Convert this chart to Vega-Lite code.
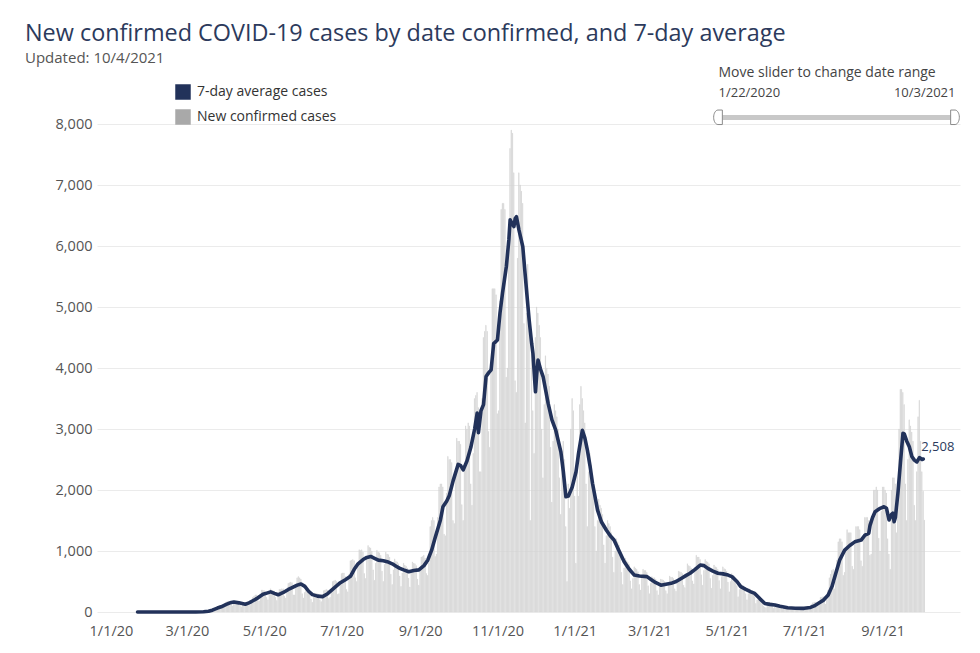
{
"$schema":"https://vega.github.io/schema/vega-lite/v6.json",
"width":863,"height":488,
"autosize":{"type":"none"},
"padding":{"left":97,"top":124,"right":20,"bottom":41},
"background":"white",
"title":{"text":"New confirmed COVID-19 cases by date confirmed, and 7-day average","subtitle":"Updated: 10/4/2021","anchor":"start","frame":"group","dx":-72,"fontSize":23.4,"fontWeight":"normal","color":"#2c3a5c","subtitleFontSize":15,"subtitleColor":"#555555","subtitlePadding":5,"offset":-2},
"config":{"font":"Open Sans","view":{"stroke":null},"axis":{"labelFontSize":14.5,"labelColor":"#555555","ticks":false,"domain":false}},
"datasets":{
"bars":[
{"d":"2020-03-08","c":0},{"d":"2020-03-09","c":1},{"d":"2020-03-10","c":1},{"d":"2020-03-11","c":2},{"d":"2020-03-12","c":4},{"d":"2020-03-13","c":6},{"d":"2020-03-14","c":8},
{"d":"2020-03-15","c":10},{"d":"2020-03-16","c":15},{"d":"2020-03-17","c":22},{"d":"2020-03-18","c":30},{"d":"2020-03-19","c":40},{"d":"2020-03-20","c":50},{"d":"2020-03-21","c":45},
{"d":"2020-03-22","c":50},{"d":"2020-03-23","c":65},{"d":"2020-03-24","c":85},{"d":"2020-03-25","c":95},{"d":"2020-03-26","c":110},{"d":"2020-03-27","c":105},{"d":"2020-03-28","c":90},
{"d":"2020-03-29","c":100},{"d":"2020-03-30","c":140},{"d":"2020-03-31","c":165},{"d":"2020-04-01","c":175},{"d":"2020-04-02","c":180},{"d":"2020-04-03","c":165},{"d":"2020-04-04","c":125},
{"d":"2020-04-05","c":100},{"d":"2020-04-06","c":150},{"d":"2020-04-07","c":185},{"d":"2020-04-08","c":180},{"d":"2020-04-09","c":180},{"d":"2020-04-10","c":170},{"d":"2020-04-11","c":120},
{"d":"2020-04-12","c":85},{"d":"2020-04-13","c":125},{"d":"2020-04-14","c":160},{"d":"2020-04-15","c":155},{"d":"2020-04-16","c":155},{"d":"2020-04-17","c":150},{"d":"2020-04-18","c":115},
{"d":"2020-04-19","c":110},{"d":"2020-04-20","c":180},{"d":"2020-04-21","c":240},{"d":"2020-04-22","c":260},{"d":"2020-04-23","c":280},{"d":"2020-04-24","c":280},{"d":"2020-04-25","c":190},
{"d":"2020-04-26","c":180},{"d":"2020-04-27","c":280},{"d":"2020-04-28","c":360},{"d":"2020-04-29","c":360},{"d":"2020-04-30","c":350},{"d":"2020-05-01","c":330},{"d":"2020-05-02","c":240},
{"d":"2020-05-03","c":200},{"d":"2020-05-04","c":300},{"d":"2020-05-05","c":380},{"d":"2020-05-06","c":360},{"d":"2020-05-07","c":350},{"d":"2020-05-08","c":340},{"d":"2020-05-09","c":240},
{"d":"2020-05-10","c":190},{"d":"2020-05-11","c":290},{"d":"2020-05-12","c":370},{"d":"2020-05-13","c":370},{"d":"2020-05-14","c":380},{"d":"2020-05-15","c":380},{"d":"2020-05-16","c":260},
{"d":"2020-05-17","c":230},{"d":"2020-05-18","c":370},{"d":"2020-05-19","c":470},{"d":"2020-05-20","c":480},{"d":"2020-05-21","c":490},{"d":"2020-05-22","c":480},{"d":"2020-05-23","c":280},
{"d":"2020-05-24","c":280},{"d":"2020-05-25","c":400},{"d":"2020-05-26","c":560},{"d":"2020-05-27","c":580},{"d":"2020-05-28","c":560},{"d":"2020-05-29","c":540},{"d":"2020-05-30","c":300},
{"d":"2020-05-31","c":230},{"d":"2020-06-01","c":320},{"d":"2020-06-02","c":380},{"d":"2020-06-03","c":360},{"d":"2020-06-04","c":350},{"d":"2020-06-05","c":320},{"d":"2020-06-06","c":210},
{"d":"2020-06-07","c":160},{"d":"2020-06-08","c":250},{"d":"2020-06-09","c":310},{"d":"2020-06-10","c":310},{"d":"2020-06-11","c":300},{"d":"2020-06-12","c":290},{"d":"2020-06-13","c":200},
{"d":"2020-06-14","c":170},{"d":"2020-06-15","c":270},{"d":"2020-06-16","c":350},{"d":"2020-06-17","c":360},{"d":"2020-06-18","c":370},{"d":"2020-06-19","c":360},{"d":"2020-06-20","c":220},
{"d":"2020-06-21","c":240},{"d":"2020-06-22","c":380},{"d":"2020-06-23","c":500},{"d":"2020-06-24","c":510},{"d":"2020-06-25","c":520},{"d":"2020-06-26","c":500},{"d":"2020-06-27","c":290},
{"d":"2020-06-28","c":300},{"d":"2020-06-29","c":480},{"d":"2020-06-30","c":630},{"d":"2020-07-01","c":640},{"d":"2020-07-02","c":640},{"d":"2020-07-03","c":580},{"d":"2020-07-04","c":370},
{"d":"2020-07-05","c":330},{"d":"2020-07-06","c":620},{"d":"2020-07-07","c":840},{"d":"2020-07-08","c":850},{"d":"2020-07-09","c":860},{"d":"2020-07-10","c":840},{"d":"2020-07-11","c":560},
{"d":"2020-07-12","c":500},{"d":"2020-07-13","c":790},{"d":"2020-07-14","c":1020},{"d":"2020-07-15","c":1010},{"d":"2020-07-16","c":1020},{"d":"2020-07-17","c":980},{"d":"2020-07-18","c":630},
{"d":"2020-07-19","c":550},{"d":"2020-07-20","c":860},{"d":"2020-07-21","c":1090},{"d":"2020-07-22","c":1060},{"d":"2020-07-23","c":1050},{"d":"2020-07-24","c":1000},{"d":"2020-07-25","c":690},
{"d":"2020-07-26","c":520},{"d":"2020-07-27","c":800},{"d":"2020-07-28","c":1010},{"d":"2020-07-29","c":980},{"d":"2020-07-30","c":970},{"d":"2020-07-31","c":930},{"d":"2020-08-01","c":670},
{"d":"2020-08-02","c":500},{"d":"2020-08-03","c":780},{"d":"2020-08-04","c":980},{"d":"2020-08-05","c":950},{"d":"2020-08-06","c":940},{"d":"2020-08-07","c":900},{"d":"2020-08-08","c":620},
{"d":"2020-08-09","c":450},{"d":"2020-08-10","c":690},{"d":"2020-08-11","c":870},{"d":"2020-08-12","c":830},{"d":"2020-08-13","c":820},{"d":"2020-08-14","c":790},{"d":"2020-08-15","c":590},
{"d":"2020-08-16","c":420},{"d":"2020-08-17","c":640},{"d":"2020-08-18","c":800},{"d":"2020-08-19","c":770},{"d":"2020-08-20","c":750},{"d":"2020-08-21","c":720},{"d":"2020-08-22","c":555},
{"d":"2020-08-23","c":410},{"d":"2020-08-24","c":640},{"d":"2020-08-25","c":820},{"d":"2020-08-26","c":800},{"d":"2020-08-27","c":790},{"d":"2020-08-28","c":760},{"d":"2020-08-29","c":540},
{"d":"2020-08-30","c":440},{"d":"2020-08-31","c":700},{"d":"2020-09-01","c":900},{"d":"2020-09-02","c":910},{"d":"2020-09-03","c":930},{"d":"2020-09-04","c":880},{"d":"2020-09-05","c":630},
{"d":"2020-09-06","c":600},{"d":"2020-09-07","c":800},{"d":"2020-09-08","c":1400},{"d":"2020-09-09","c":1500},{"d":"2020-09-10","c":1550},{"d":"2020-09-11","c":1500},{"d":"2020-09-12","c":910},
{"d":"2020-09-13","c":950},{"d":"2020-09-14","c":1550},{"d":"2020-09-15","c":2050},{"d":"2020-09-16","c":2100},{"d":"2020-09-17","c":2100},{"d":"2020-09-18","c":2050},{"d":"2020-09-19","c":1275},
{"d":"2020-09-20","c":1250},{"d":"2020-09-21","c":1950},{"d":"2020-09-22","c":2550},{"d":"2020-09-23","c":2500},{"d":"2020-09-24","c":2500},{"d":"2020-09-25","c":2450},{"d":"2020-09-26","c":1500},
{"d":"2020-09-27","c":1450},{"d":"2020-09-28","c":2250},{"d":"2020-09-29","c":2850},{"d":"2020-09-30","c":2800},{"d":"2020-10-01","c":2800},{"d":"2020-10-02","c":2750},{"d":"2020-10-03","c":1760},
{"d":"2020-10-04","c":1500},{"d":"2020-10-05","c":2400},{"d":"2020-10-06","c":3050},{"d":"2020-10-07","c":3000},{"d":"2020-10-08","c":3100},{"d":"2020-10-09","c":3050},{"d":"2020-10-10","c":2100},
{"d":"2020-10-11","c":1750},{"d":"2020-10-12","c":2600},{"d":"2020-10-13","c":3500},{"d":"2020-10-14","c":3550},{"d":"2020-10-15","c":3600},{"d":"2020-10-16","c":3350},{"d":"2020-10-17","c":2300},
{"d":"2020-10-18","c":2300},{"d":"2020-10-19","c":3500},{"d":"2020-10-20","c":4500},{"d":"2020-10-21","c":4600},{"d":"2020-10-22","c":4700},{"d":"2020-10-23","c":4600},{"d":"2020-10-24","c":2960},
{"d":"2020-10-25","c":2700},{"d":"2020-10-26","c":4100},{"d":"2020-10-27","c":5300},{"d":"2020-10-28","c":5300},{"d":"2020-10-29","c":5300},{"d":"2020-10-30","c":5200},{"d":"2020-10-31","c":3250},
{"d":"2020-11-01","c":3300},{"d":"2020-11-02","c":5100},{"d":"2020-11-03","c":6600},{"d":"2020-11-04","c":6700},{"d":"2020-11-05","c":6700},{"d":"2020-11-06","c":6600},{"d":"2020-11-07","c":3850},
{"d":"2020-11-08","c":4000},{"d":"2020-11-09","c":5900},{"d":"2020-11-10","c":7600},{"d":"2020-11-11","c":7900},{"d":"2020-11-12","c":7850},{"d":"2020-11-13","c":7200},{"d":"2020-11-14","c":3790},
{"d":"2020-11-15","c":3600},{"d":"2020-11-16","c":5800},{"d":"2020-11-17","c":7200},{"d":"2020-11-18","c":7000},{"d":"2020-11-19","c":6900},{"d":"2020-11-20","c":6700},{"d":"2020-11-21","c":4730},
{"d":"2020-11-22","c":3100},{"d":"2020-11-23","c":4900},{"d":"2020-11-24","c":5700},{"d":"2020-11-25","c":5000},{"d":"2020-11-26","c":1500},{"d":"2020-11-27","c":4400},{"d":"2020-11-28","c":3300},
{"d":"2020-11-29","c":2600},{"d":"2020-11-30","c":4500},{"d":"2020-12-01","c":5000},{"d":"2020-12-02","c":4900},{"d":"2020-12-03","c":4700},{"d":"2020-12-04","c":4500},{"d":"2020-12-05","c":3000},
{"d":"2020-12-06","c":2200},{"d":"2020-12-07","c":3400},{"d":"2020-12-08","c":4200},{"d":"2020-12-09","c":4000},{"d":"2020-12-10","c":3900},{"d":"2020-12-11","c":3700},{"d":"2020-12-12","c":2700},
{"d":"2020-12-13","c":1800},{"d":"2020-12-14","c":2800},{"d":"2020-12-15","c":3400},{"d":"2020-12-16","c":3300},{"d":"2020-12-17","c":3200},{"d":"2020-12-18","c":3000},{"d":"2020-12-19","c":2200},
{"d":"2020-12-20","c":1600},{"d":"2020-12-21","c":2400},{"d":"2020-12-22","c":2800},{"d":"2020-12-23","c":2500},{"d":"2020-12-24","c":1400},{"d":"2020-12-25","c":500},{"d":"2020-12-26","c":2100},
{"d":"2020-12-27","c":1700},{"d":"2020-12-28","c":3000},{"d":"2020-12-29","c":3500},{"d":"2020-12-30","c":3300},{"d":"2020-12-31","c":1900},{"d":"2021-01-01","c":800},{"d":"2021-01-02","c":2600},
{"d":"2021-01-03","c":1900},{"d":"2021-01-04","c":3400},{"d":"2021-01-05","c":3700},{"d":"2021-01-06","c":3500},{"d":"2021-01-07","c":3300},{"d":"2021-01-08","c":3100},{"d":"2021-01-09","c":2100},
{"d":"2021-01-10","c":1400},{"d":"2021-01-11","c":2300},{"d":"2021-01-12","c":2600},{"d":"2021-01-13","c":2400},{"d":"2021-01-14","c":2200},{"d":"2021-01-15","c":2000},{"d":"2021-01-16","c":1400},
{"d":"2021-01-17","c":1000},{"d":"2021-01-18","c":1500},{"d":"2021-01-19","c":1850},{"d":"2021-01-20","c":1750},{"d":"2021-01-21","c":1700},{"d":"2021-01-22","c":1600},{"d":"2021-01-23","c":1100},
{"d":"2021-01-24","c":800},{"d":"2021-01-25","c":1250},{"d":"2021-01-26","c":1500},{"d":"2021-01-27","c":1450},{"d":"2021-01-28","c":1400},{"d":"2021-01-29","c":1300},{"d":"2021-01-30","c":900},
{"d":"2021-01-31","c":650},{"d":"2021-02-01","c":1000},{"d":"2021-02-02","c":1200},{"d":"2021-02-03","c":1150},{"d":"2021-02-04","c":1100},{"d":"2021-02-05","c":1000},{"d":"2021-02-06","c":650},
{"d":"2021-02-07","c":450},{"d":"2021-02-08","c":720},{"d":"2021-02-09","c":880},{"d":"2021-02-10","c":840},{"d":"2021-02-11","c":820},{"d":"2021-02-12","c":780},{"d":"2021-02-13","c":510},
{"d":"2021-02-14","c":380},{"d":"2021-02-15","c":550},{"d":"2021-02-16","c":740},{"d":"2021-02-17","c":720},{"d":"2021-02-18","c":700},{"d":"2021-02-19","c":660},{"d":"2021-02-20","c":450},
{"d":"2021-02-21","c":360},{"d":"2021-02-22","c":560},{"d":"2021-02-23","c":700},{"d":"2021-02-24","c":680},{"d":"2021-02-25","c":680},{"d":"2021-02-26","c":650},{"d":"2021-02-27","c":430},
{"d":"2021-02-28","c":300},{"d":"2021-03-01","c":470},{"d":"2021-03-02","c":580},{"d":"2021-03-03","c":560},{"d":"2021-03-04","c":560},{"d":"2021-03-05","c":540},{"d":"2021-03-06","c":350},
{"d":"2021-03-07","c":280},{"d":"2021-03-08","c":430},{"d":"2021-03-09","c":540},{"d":"2021-03-10","c":530},{"d":"2021-03-11","c":520},{"d":"2021-03-12","c":500},{"d":"2021-03-13","c":350},
{"d":"2021-03-14","c":300},{"d":"2021-03-15","c":470},{"d":"2021-03-16","c":590},{"d":"2021-03-17","c":570},{"d":"2021-03-18","c":570},{"d":"2021-03-19","c":550},{"d":"2021-03-20","c":380},
{"d":"2021-03-21","c":340},{"d":"2021-03-22","c":530},{"d":"2021-03-23","c":670},{"d":"2021-03-24","c":660},{"d":"2021-03-25","c":650},{"d":"2021-03-26","c":630},{"d":"2021-03-27","c":440},
{"d":"2021-03-28","c":400},{"d":"2021-03-29","c":620},{"d":"2021-03-30","c":790},{"d":"2021-03-31","c":760},{"d":"2021-04-01","c":750},{"d":"2021-04-02","c":720},{"d":"2021-04-03","c":510},
{"d":"2021-04-04","c":460},{"d":"2021-04-05","c":730},{"d":"2021-04-06","c":930},{"d":"2021-04-07","c":900},{"d":"2021-04-08","c":900},{"d":"2021-04-09","c":860},{"d":"2021-04-10","c":610},
{"d":"2021-04-11","c":440},{"d":"2021-04-12","c":680},{"d":"2021-04-13","c":860},{"d":"2021-04-14","c":830},{"d":"2021-04-15","c":820},{"d":"2021-04-16","c":790},{"d":"2021-04-17","c":550},
{"d":"2021-04-18","c":390},{"d":"2021-04-19","c":600},{"d":"2021-04-20","c":770},{"d":"2021-04-21","c":740},{"d":"2021-04-22","c":730},{"d":"2021-04-23","c":700},{"d":"2021-04-24","c":515},
{"d":"2021-04-25","c":380},{"d":"2021-04-26","c":580},{"d":"2021-04-27","c":740},{"d":"2021-04-28","c":710},{"d":"2021-04-29","c":700},{"d":"2021-04-30","c":670},{"d":"2021-05-01","c":490},
{"d":"2021-05-02","c":330},{"d":"2021-05-03","c":500},{"d":"2021-05-04","c":630},{"d":"2021-05-05","c":600},{"d":"2021-05-06","c":590},{"d":"2021-05-07","c":560},{"d":"2021-05-08","c":430},
{"d":"2021-05-09","c":250},{"d":"2021-05-10","c":370},{"d":"2021-05-11","c":460},{"d":"2021-05-12","c":440},{"d":"2021-05-13","c":430},{"d":"2021-05-14","c":410},{"d":"2021-05-15","c":300},
{"d":"2021-05-16","c":200},{"d":"2021-05-17","c":300},{"d":"2021-05-18","c":380},{"d":"2021-05-19","c":360},{"d":"2021-05-20","c":350},{"d":"2021-05-21","c":330},{"d":"2021-05-22","c":250},
{"d":"2021-05-23","c":140},{"d":"2021-05-24","c":200},{"d":"2021-05-25","c":230},{"d":"2021-05-26","c":210},{"d":"2021-05-27","c":200},{"d":"2021-05-28","c":180},{"d":"2021-05-29","c":100},
{"d":"2021-05-30","c":80},{"d":"2021-05-31","c":70},{"d":"2021-06-01","c":160},{"d":"2021-06-02","c":160},{"d":"2021-06-03","c":160},{"d":"2021-06-04","c":150},{"d":"2021-06-05","c":95},
{"d":"2021-06-06","c":60},{"d":"2021-06-07","c":95},{"d":"2021-06-08","c":120},{"d":"2021-06-09","c":120},{"d":"2021-06-10","c":115},{"d":"2021-06-11","c":110},{"d":"2021-06-12","c":80},
{"d":"2021-06-13","c":45},{"d":"2021-06-14","c":65},{"d":"2021-06-15","c":85},{"d":"2021-06-16","c":85},{"d":"2021-06-17","c":80},{"d":"2021-06-18","c":80},{"d":"2021-06-19","c":50},
{"d":"2021-06-20","c":40},{"d":"2021-06-21","c":60},{"d":"2021-06-22","c":75},{"d":"2021-06-23","c":75},{"d":"2021-06-24","c":70},{"d":"2021-06-25","c":70},{"d":"2021-06-26","c":44},
{"d":"2021-06-27","c":35},{"d":"2021-06-28","c":55},{"d":"2021-06-29","c":75},{"d":"2021-06-30","c":75},{"d":"2021-07-01","c":70},{"d":"2021-07-02","c":65},{"d":"2021-07-03","c":45},
{"d":"2021-07-04","c":35},{"d":"2021-07-05","c":50},{"d":"2021-07-06","c":130},{"d":"2021-07-07","c":150},{"d":"2021-07-08","c":160},{"d":"2021-07-09","c":160},{"d":"2021-07-10","c":85},
{"d":"2021-07-11","c":110},{"d":"2021-07-12","c":180},{"d":"2021-07-13","c":240},{"d":"2021-07-14","c":240},{"d":"2021-07-15","c":250},{"d":"2021-07-16","c":250},{"d":"2021-07-17","c":130},
{"d":"2021-07-18","c":200},{"d":"2021-07-19","c":360},{"d":"2021-07-20","c":560},{"d":"2021-07-21","c":620},{"d":"2021-07-22","c":680},{"d":"2021-07-23","c":700},{"d":"2021-07-24","c":380},
{"d":"2021-07-25","c":500},{"d":"2021-07-26","c":850},{"d":"2021-07-27","c":1150},{"d":"2021-07-28","c":1200},{"d":"2021-07-29","c":1200},{"d":"2021-07-30","c":1150},{"d":"2021-07-31","c":600},
{"d":"2021-08-01","c":650},{"d":"2021-08-02","c":1050},{"d":"2021-08-03","c":1350},{"d":"2021-08-04","c":1300},{"d":"2021-08-05","c":1300},{"d":"2021-08-06","c":1300},{"d":"2021-08-07","c":750},
{"d":"2021-08-08","c":700},{"d":"2021-08-09","c":1100},{"d":"2021-08-10","c":1400},{"d":"2021-08-11","c":1400},{"d":"2021-08-12","c":1400},{"d":"2021-08-13","c":1350},{"d":"2021-08-14","c":840},
{"d":"2021-08-15","c":750},{"d":"2021-08-16","c":1200},{"d":"2021-08-17","c":1550},{"d":"2021-08-18","c":1550},{"d":"2021-08-19","c":1550},{"d":"2021-08-20","c":1500},{"d":"2021-08-21","c":930},
{"d":"2021-08-22","c":950},{"d":"2021-08-23","c":1550},{"d":"2021-08-24","c":2000},{"d":"2021-08-25","c":2000},{"d":"2021-08-26","c":2050},{"d":"2021-08-27","c":2000},{"d":"2021-08-28","c":1210},
{"d":"2021-08-29","c":1000},{"d":"2021-08-30","c":1650},{"d":"2021-08-31","c":2050},{"d":"2021-09-01","c":2050},{"d":"2021-09-02","c":2000},{"d":"2021-09-03","c":1950},{"d":"2021-09-04","c":1200},
{"d":"2021-09-05","c":950},{"d":"2021-09-06","c":700},{"d":"2021-09-07","c":2000},{"d":"2021-09-08","c":2200},{"d":"2021-09-09","c":2200},{"d":"2021-09-10","c":2100},{"d":"2021-09-11","c":1300},
{"d":"2021-09-12","c":1700},{"d":"2021-09-13","c":3000},{"d":"2021-09-14","c":3650},{"d":"2021-09-15","c":3650},{"d":"2021-09-16","c":3600},{"d":"2021-09-17","c":3400},{"d":"2021-09-18","c":2100},
{"d":"2021-09-19","c":1500},{"d":"2021-09-20","c":2500},{"d":"2021-09-21","c":3150},{"d":"2021-09-22","c":3050},{"d":"2021-09-23","c":2950},{"d":"2021-09-24","c":2800},{"d":"2021-09-25","c":1750},
{"d":"2021-09-26","c":1500},{"d":"2021-09-27","c":2300},{"d":"2021-09-28","c":3200},{"d":"2021-09-29","c":3470},{"d":"2021-09-30","c":2800},{"d":"2021-10-01","c":2300},{"d":"2021-10-02","c":1980},
{"d":"2021-10-03","c":1506}
],
"avg":[
{"d":"2020-01-22","a":0},{"d":"2020-03-08","a":0},{"d":"2020-03-14","a":3},{"d":"2020-03-18","a":12},{"d":"2020-03-21","a":30},{"d":"2020-03-25","a":65},{"d":"2020-03-28","a":85},{"d":"2020-04-01","a":125},{"d":"2020-04-04","a":150},{"d":"2020-04-07","a":163},{"d":"2020-04-11","a":150},{"d":"2020-04-16","a":128},{"d":"2020-04-19","a":150},{"d":"2020-04-22","a":185},{"d":"2020-04-26","a":232},{"d":"2020-04-30","a":290},{"d":"2020-05-03","a":310},{"d":"2020-05-06","a":330},{"d":"2020-05-09","a":305},{"d":"2020-05-12","a":282},{"d":"2020-05-16","a":320},{"d":"2020-05-20","a":370},{"d":"2020-05-23","a":400},{"d":"2020-05-27","a":440},{"d":"2020-05-30","a":460},{"d":"2020-06-02","a":420},{"d":"2020-06-05","a":340},{"d":"2020-06-08","a":285},{"d":"2020-06-12","a":260},{"d":"2020-06-16","a":252},{"d":"2020-06-20","a":300},{"d":"2020-06-25","a":390},{"d":"2020-06-30","a":480},{"d":"2020-07-04","a":530},{"d":"2020-07-08","a":585},{"d":"2020-07-11","a":700},{"d":"2020-07-14","a":790},{"d":"2020-07-18","a":860},{"d":"2020-07-21","a":895},{"d":"2020-07-24","a":910},{"d":"2020-07-27","a":880},{"d":"2020-07-30","a":850},{"d":"2020-08-03","a":840},{"d":"2020-08-06","a":825},{"d":"2020-08-10","a":790},{"d":"2020-08-13","a":750},{"d":"2020-08-16","a":715},{"d":"2020-08-19","a":690},{"d":"2020-08-23","a":660},{"d":"2020-08-27","a":680},{"d":"2020-08-31","a":690},{"d":"2020-09-04","a":760},{"d":"2020-09-07","a":850},{"d":"2020-09-10","a":1010},{"d":"2020-09-13","a":1230},{"d":"2020-09-17","a":1510},{"d":"2020-09-19","a":1725},{"d":"2020-09-22","a":1820},{"d":"2020-09-24","a":1910},{"d":"2020-09-27","a":2150},{"d":"2020-10-01","a":2420},{"d":"2020-10-03","a":2400},{"d":"2020-10-05","a":2330},{"d":"2020-10-08","a":2480},{"d":"2020-10-11","a":2700},{"d":"2020-10-14","a":3000},{"d":"2020-10-16","a":3260},{"d":"2020-10-17","a":2940},{"d":"2020-10-19","a":3300},{"d":"2020-10-21","a":3400},{"d":"2020-10-23","a":3860},{"d":"2020-10-25","a":3920},{"d":"2020-10-27","a":3970},{"d":"2020-10-29","a":4400},{"d":"2020-11-01","a":4460},{"d":"2020-11-03","a":4900},{"d":"2020-11-05","a":5230},{"d":"2020-11-08","a":5660},{"d":"2020-11-10","a":6100},{"d":"2020-11-11","a":6430},{"d":"2020-11-13","a":6350},{"d":"2020-11-14","a":6320},{"d":"2020-11-15","a":6450},{"d":"2020-11-16","a":6480},{"d":"2020-11-18","a":6260},{"d":"2020-11-21","a":5990},{"d":"2020-11-23","a":5500},{"d":"2020-11-26","a":4790},{"d":"2020-11-28","a":4400},{"d":"2020-11-29","a":4240},{"d":"2020-12-01","a":3610},{"d":"2020-12-02","a":3900},{"d":"2020-12-03","a":4130},{"d":"2020-12-05","a":3980},{"d":"2020-12-07","a":3860},{"d":"2020-12-11","a":3420},{"d":"2020-12-14","a":3150},{"d":"2020-12-17","a":2980},{"d":"2020-12-21","a":2630},{"d":"2020-12-23","a":2300},{"d":"2020-12-25","a":1890},{"d":"2020-12-27","a":1900},{"d":"2020-12-30","a":2050},{"d":"2021-01-02","a":2300},{"d":"2021-01-04","a":2600},{"d":"2021-01-07","a":2980},{"d":"2021-01-09","a":2850},{"d":"2021-01-11","a":2650},{"d":"2021-01-13","a":2400},{"d":"2021-01-15","a":2110},{"d":"2021-01-19","a":1670},{"d":"2021-01-22","a":1480},{"d":"2021-01-26","a":1340},{"d":"2021-01-29","a":1250},{"d":"2021-02-01","a":1180},{"d":"2021-02-05","a":1000},{"d":"2021-02-09","a":825},{"d":"2021-02-13","a":700},{"d":"2021-02-17","a":605},{"d":"2021-02-21","a":590},{"d":"2021-02-27","a":580},{"d":"2021-03-03","a":520},{"d":"2021-03-06","a":480},{"d":"2021-03-10","a":440},{"d":"2021-03-14","a":455},{"d":"2021-03-18","a":470},{"d":"2021-03-22","a":500},{"d":"2021-03-26","a":550},{"d":"2021-03-30","a":600},{"d":"2021-04-02","a":635},{"d":"2021-04-06","a":700},{"d":"2021-04-10","a":770},{"d":"2021-04-13","a":760},{"d":"2021-04-16","a":715},{"d":"2021-04-20","a":670},{"d":"2021-04-24","a":635},{"d":"2021-04-28","a":625},{"d":"2021-05-02","a":605},{"d":"2021-05-05","a":580},{"d":"2021-05-09","a":500},{"d":"2021-05-12","a":415},{"d":"2021-05-16","a":370},{"d":"2021-05-20","a":330},{"d":"2021-05-23","a":305},{"d":"2021-05-27","a":220},{"d":"2021-05-31","a":140},{"d":"2021-06-04","a":125},{"d":"2021-06-08","a":115},{"d":"2021-06-12","a":95},{"d":"2021-06-18","a":70},{"d":"2021-06-24","a":62},{"d":"2021-07-01","a":60},{"d":"2021-07-06","a":75},{"d":"2021-07-09","a":100},{"d":"2021-07-12","a":140},{"d":"2021-07-16","a":190},{"d":"2021-07-20","a":280},{"d":"2021-07-23","a":420},{"d":"2021-07-26","a":635},{"d":"2021-07-29","a":850},{"d":"2021-08-02","a":1015},{"d":"2021-08-06","a":1090},{"d":"2021-08-10","a":1150},{"d":"2021-08-15","a":1180},{"d":"2021-08-18","a":1260},{"d":"2021-08-21","a":1290},{"d":"2021-08-22","a":1420},{"d":"2021-08-24","a":1550},{"d":"2021-08-26","a":1645},{"d":"2021-08-30","a":1700},{"d":"2021-09-02","a":1725},{"d":"2021-09-04","a":1700},{"d":"2021-09-06","a":1510},{"d":"2021-09-08","a":1600},{"d":"2021-09-09","a":1620},{"d":"2021-09-10","a":1480},{"d":"2021-09-11","a":1550},{"d":"2021-09-13","a":1945},{"d":"2021-09-15","a":2450},{"d":"2021-09-17","a":2930},{"d":"2021-09-18","a":2920},{"d":"2021-09-20","a":2800},{"d":"2021-09-22","a":2710},{"d":"2021-09-24","a":2550},{"d":"2021-09-26","a":2490},{"d":"2021-09-28","a":2460},{"d":"2021-09-30","a":2530},{"d":"2021-10-01","a":2520},{"d":"2021-10-02","a":2500},{"d":"2021-10-03","a":2508}
],
"slider":[{"d":"2020-01-22","h":"start"},{"d":"2021-10-03","h":"end"}]
},
"layer":[
{"layer":[
{"data":{"name":"bars"},"mark":{"type":"bar","color":"#d3d3d3","stroke":"#d3d3d3","strokeWidth":0.6},
 "encoding":{
  "x":{"field":"d","type":"temporal","timeUnit":"utcyearmonthdate","title":null,
   "scale":{"domain":[{"year":2019,"month":12,"date":21,"utc":true},{"year":2021,"month":11,"date":1,"utc":true}]},
   "axis":{"values":[{"year":2020,"month":1,"date":1,"utc":true},{"year":2020,"month":3,"date":1,"utc":true},{"year":2020,"month":5,"date":1,"utc":true},{"year":2020,"month":7,"date":1,"utc":true},{"year":2020,"month":9,"date":1,"utc":true},{"year":2020,"month":11,"date":1,"utc":true},{"year":2021,"month":1,"date":1,"utc":true},{"year":2021,"month":3,"date":1,"utc":true},{"year":2021,"month":5,"date":1,"utc":true},{"year":2021,"month":7,"date":1,"utc":true},{"year":2021,"month":9,"date":1,"utc":true}],"format":"%-m/%-d/%y","grid":false,"labelPadding":12,"labelAngle":0}},
  "y":{"field":"c","type":"quantitative","title":null,"scale":{"domain":[0,8000],"nice":false},
   "axis":{"values":[0,1000,2000,3000,4000,5000,6000,7000,8000],"format":",.0f","grid":true,"gridColor":"#ebebeb","labelPadding":5}}
 }},
{"data":{"name":"avg"},"mark":{"type":"line","strokeWidth":3.6,"strokeJoin":"round","strokeCap":"round"},
 "encoding":{
  "x":{"field":"d","type":"temporal","timeUnit":"utcyearmonthdate"},
  "y":{"field":"a","type":"quantitative"},
  "color":{"datum":"7-day average cases","scale":{"domain":["7-day average cases","New confirmed cases"],"range":["#22325a","#a9a9a9"]},
   "legend":{"orient":"none","legendX":78,"legendY":-40,"title":null,"symbolType":"square","symbolSize":240,"symbolStrokeWidth":0,"symbolOpacity":1,"labelFontSize":14,"labelColor":"#333333","rowPadding":9,"labelOffset":6,
    "encode":{"symbols":{"update":{"fill":{"scale":"color","field":"value"},"fillOpacity":{"value":1},"strokeWidth":{"value":0}}}}}}
 }},
{"data":{"name":"avg"},"transform":[{"filter":"datum.a == 2508"}],
 "mark":{"type":"text","align":"left","baseline":"bottom","dx":-2,"dy":-5,"fontSize":13,"color":"#2c3a5c"},
 "encoding":{
  "x":{"field":"d","type":"temporal","timeUnit":"utcyearmonthdate"},
  "y":{"field":"a","type":"quantitative"},
  "text":{"field":"a","type":"quantitative","format":","}
 }}
]},
{"data":{"name":"slider"},
 "layer":[
 {"transform":[{"filter":"datum.h == 'start'"}],
  "mark":{"type":"point","shape":"M0.6,-1H0A0.6,1 0 0 0 0,1H0.6Z","filled":true,"fill":"white","stroke":"#8a8a8a","strokeWidth":1,"size":210,"opacity":1},
  "encoding":{
   "x":{"field":"d","type":"temporal","timeUnit":"utcyearmonthdate","title":"Move slider to change date range",
    "scale":{"domain":[{"year":2020,"month":1,"date":22,"utc":true},{"year":2021,"month":10,"date":3,"utc":true}],"range":[621,858]},
    "axis":{"orient":"top","values":[{"year":2020,"month":1,"date":22,"utc":true},{"year":2021,"month":10,"date":3,"utc":true}],"format":"%-m/%-d/%Y","labelFlush":true,"labelFontSize":13,"labelColor":"#444444","labelPadding":18,"ticks":false,"grid":false,"domain":true,"domainColor":"#c8c8c8","domainWidth":5,"domainCap":"round","offset":7,"titleFontSize":14,"titleFontWeight":"normal","titleColor":"#444444","titleAnchor":"start","titlePadding":7}},
   "y":{"datum":8110,"type":"quantitative","scale":{"domain":[0,8000],"nice":false},"axis":null}
  }},
 {"transform":[{"filter":"datum.h == 'end'"}],
  "mark":{"type":"point","shape":"M-0.6,-1H0A0.6,1 0 0 1 0,1H-0.6Z","filled":true,"fill":"white","stroke":"#8a8a8a","strokeWidth":1,"size":210,"opacity":1},
  "encoding":{
   "x":{"field":"d","type":"temporal","timeUnit":"utcyearmonthdate"},
   "y":{"datum":8110,"type":"quantitative"}
  }}
 ]}
],
"resolve":{"scale":{"x":"independent","y":"independent"}}
}
